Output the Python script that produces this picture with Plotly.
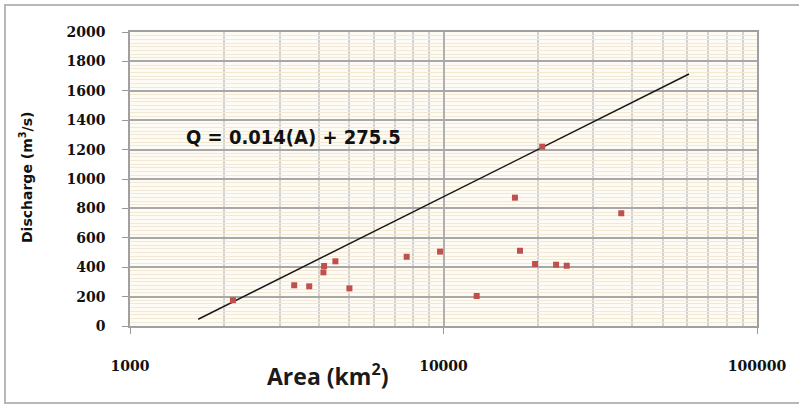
import plotly.graph_objects as go

# Data
area_km2 = [2130, 3340, 3730, 4160, 4140, 4520, 5010, 7630, 9750, 12760,
            16900, 17540, 19590, 22860, 24720, 36900, 20650]
discharge = [175, 277, 270, 408, 365, 440, 256, 471, 506, 204,
             873, 512, 422, 417, 410, 767, 1220]

line_area = [1650, 60700]
line_q = [46, 1714]

x_tickvals = [1000, 10000, 100000]
x_ticktext = ["1000", "10000", "100000"]
x_minorvals = [m * d for d in (1000, 10000) for m in range(2, 10)]
y_tickvals = list(range(0, 2001, 200))

W, H = 799, 405
L, R, T, B = 130, 757, 32, 326
pw, ph = R - L, B - T


def px(x):
    return (x - L) / pw


def py(y):
    return (B - y) / ph


fig = go.Figure()
fig.add_trace(go.Scatter(x=line_area, y=line_q, mode="lines",
                         line=dict(color="#1a1a1a", width=1.5),
                         showlegend=False, hoverinfo="skip"))
fig.add_trace(go.Scatter(x=area_km2, y=discharge, mode="markers",
                         marker=dict(color="#c0504d", size=6, symbol="square"),
                         showlegend=False))

tickfont = dict(family="DejaVu Serif, serif", size=14, color="#111", weight="bold")

fig.update_xaxes(type="log", range=[3, 5], tickvals=x_tickvals, ticktext=x_ticktext,
                 tickfont=tickfont, ticks="outside", ticklen=6, tickcolor="#999",
                 ticklabelstandoff=20, automargin=False,
                 showgrid=True, gridcolor="#b0b0b0", gridwidth=1.5,
                 minor=dict(showgrid=True, tickvals=x_minorvals, gridcolor="#d2d2d2",
                            gridwidth=1.5, ticks=""),
                 showline=True, linecolor="#a0a0a0", linewidth=1.5, mirror=True,
                 zeroline=False)
fig.update_yaxes(range=[0, 2000], tickvals=y_tickvals, tickfont=tickfont,
                 ticks="outside", ticklen=6, tickcolor="#999", ticklabelstandoff=14,
                 automargin=False,
                 showgrid=True, gridcolor="#a8a8a8", gridwidth=1.5,
                 minor=dict(showgrid=True, dtick=25, gridcolor="#f1e8d6", gridwidth=1),
                 showline=True, linecolor="#a0a0a0", linewidth=1.5, mirror=True,
                 zeroline=False)

# Axis titles
fig.add_annotation(x=px(327), y=py(375), xref="paper", yref="paper",
                   text="<b>Area (km<sup>2</sup>)</b>", showarrow=False,
                   xanchor="center", yanchor="middle",
                   font=dict(family="Open Sans, sans-serif", size=23, color="#1a1a1a"))
fig.add_annotation(x=px(26), y=py(178), xref="paper", yref="paper",
                   text="<b>Discharge (m<sup>3</sup>/s)</b>", showarrow=False, textangle=-90,
                   xanchor="center", yanchor="middle",
                   font=dict(family="DejaVu Sans, sans-serif", size=14, color="#111"))

# Equation label
fig.add_annotation(x=px(184), y=py(137), xref="paper", yref="paper",
                   text="<b>Q = 0.014(A) + 275.5</b>", showarrow=False,
                   xanchor="left", yanchor="middle",
                   font=dict(family="DejaVu Sans Condensed, sans-serif", size=20, color="#111"))

# Outer chart border
fig.add_shape(type="rect", xref="paper", yref="paper",
              x0=px(5), x1=px(802), y0=py(403), y1=py(5),
              line=dict(color="#b8b8b8", width=2), fillcolor="rgba(0,0,0,0)", layer="below")

fig.update_layout(width=W, height=H,
                  margin=dict(l=L, r=W - R, t=T, b=H - B),
                  paper_bgcolor="white", plot_bgcolor="#fdfbf4")

fig.write_html("out.html", config={"displayModeBar": False},
               post_script="document.body.style.margin='0';document.body.style.overflow='hidden';")
